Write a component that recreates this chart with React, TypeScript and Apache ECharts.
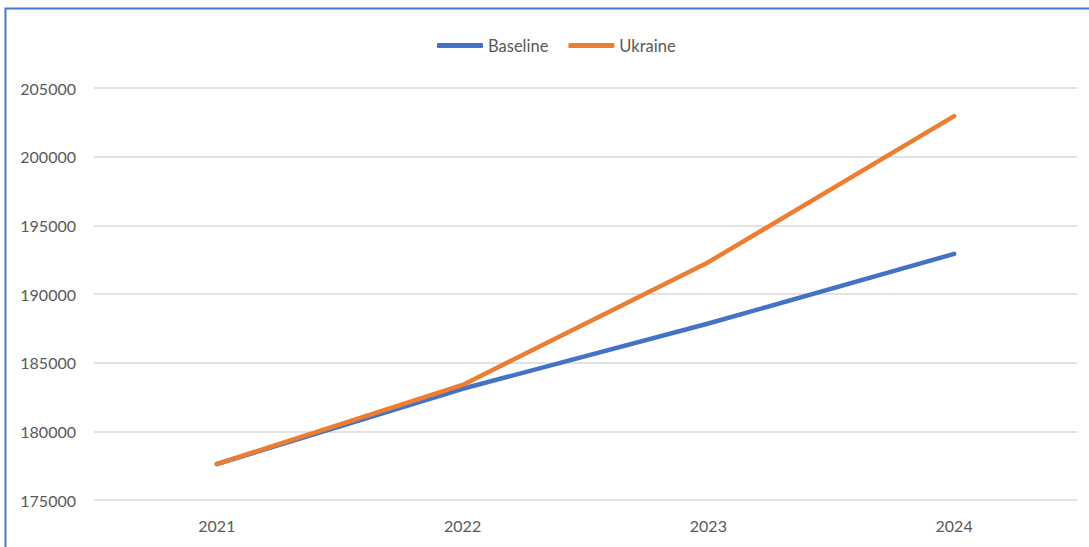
import React, { useEffect, useRef } from "react";
import * as echarts from "echarts";

const years = ["2021", "2022", "2023", "2024"];
const baseline = [177620, 183100, 187850, 192920];
const ukraine = [177620, 183380, 192320, 202950];
const yMin = 175000;
const yMax = 205000;
const yStep = 5000;

export default function App() {
  const ref = useRef<HTMLDivElement>(null);
  useEffect(() => {
    document.body.style.margin = "0";
    const chart = echarts.init(ref.current!, undefined, { renderer: "svg" });
    const font = "Lato, 'Open Sans', sans-serif";
    chart.setOption({
      animation: false,
      backgroundColor: "#ffffff",
      textStyle: { fontFamily: font },
      legend: {
        top: 32,
        left: 432,
        padding: 5,
        itemWidth: 46,
        itemHeight: 5,
        itemGap: 20,
        icon: "roundRect",
        textStyle: { fontSize: 16.5, color: "#595959", fontFamily: font },
        data: ["Baseline", "Ukraine"],
      },
      grid: { left: 94, right: 12, top: 88, bottom: 47, containLabel: false },
      xAxis: {
        type: "category",
        data: years,
        boundaryGap: true,
        axisLine: { show: false },
        axisTick: { show: false },
        axisLabel: { fontSize: 16, color: "#595959", margin: 17, fontFamily: font },
        splitLine: { show: false },
      },
      yAxis: {
        type: "value",
        min: yMin,
        max: yMax,
        interval: yStep,
        axisLine: { show: false },
        axisTick: { show: false },
        axisLabel: {
          fontSize: 16,
          color: "#595959",
          margin: 18,
          fontFamily: font,
          formatter: (v: number) => String(v),
        },
        splitLine: { show: true, lineStyle: { color: "#d9d9d9", width: 1.5 } },
      },
      series: [
        {
          name: "Baseline",
          type: "line",
          data: baseline,
          symbol: "none",
          lineStyle: { color: "#4472C4", width: 4.5, cap: "round", join: "round" },
          itemStyle: { color: "#4472C4" },
          z: 2,
        },
        {
          name: "Ukraine",
          type: "line",
          data: ukraine,
          symbol: "none",
          lineStyle: { color: "#ED7D31", width: 4.5, cap: "round", join: "round" },
          itemStyle: { color: "#ED7D31" },
          z: 3,
        },
      ],
      graphic: [
        {
          type: "polyline",
          shape: { points: [[5.5, 547], [5.5, 8.5], [1089, 8.5]] },
          style: { stroke: "#3f7bd1", lineWidth: 2, fill: "none" },
          silent: true,
        },
      ],
    });
    return () => chart.dispose();
  }, []);
  return <div ref={ref} style={{ width: 1089, height: 547 }} />;
}
